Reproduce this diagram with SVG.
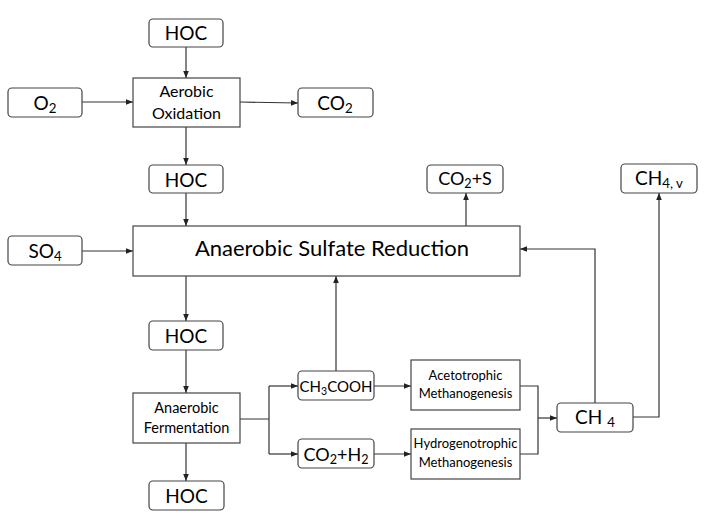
<svg xmlns="http://www.w3.org/2000/svg" width="705" height="518" viewBox="0 0 705 518">
<defs>
<marker id="ah" viewBox="0 0 10 10" refX="10" refY="5" markerWidth="7" markerHeight="7" orient="auto" markerUnits="userSpaceOnUse">
<path d="M0,1 L10,5 L0,9 z" fill="#222"/>
</marker>
<style>
.rb{fill:#fff;stroke:#444;stroke-width:1.2}
.sb{fill:#fff;stroke:#444;stroke-width:1.2}
text{font-family:Lato,"Open Sans","Liberation Sans",sans-serif;fill:#000;text-anchor:middle}
.c{fill:none;stroke:#333;stroke-width:1.2}
.a{marker-end:url(#ah)}
.sub{font-size:70%}
</style>
</defs>
<rect width="705" height="518" fill="#fff"/>
<g id="connectors">
<path class="c a" d="M186,47 V78"/>
<path class="c a" d="M82,102 H133"/>
<path class="c a" d="M240,102 L298,103"/>
<path class="c a" d="M186,127 V165"/>
<path class="c a" d="M186,193 V226"/>
<path class="c a" d="M82,251 H133"/>
<path class="c a" d="M466,226 V193"/>
<path class="c a" d="M186,276 V321"/>
<path class="c a" d="M186,350 V393"/>
<path class="c a" d="M186,443 V481"/>
<path class="c" d="M240,419 H269 M269,386 V454"/>
<path class="c a" d="M269,386 H298"/>
<path class="c a" d="M269,454 H298"/>
<path class="c a" d="M336,371 V276"/>
<path class="c a" d="M374,386 H411"/>
<path class="c a" d="M374,454 H411"/>
<path class="c" d="M520,386 H538 V454 H520"/>
<path class="c a" d="M538,418 H557"/>
<path class="c a" d="M595,403 V249 H520"/>
<path class="c a" d="M633,417 H659 V193"/>
</g>
<g id="hoc1"><rect class="rb" x="149" y="19" width="74" height="28" rx="4"/><text x="186" y="40" font-size="19">HOC</text></g>
<g id="o2"><rect class="rb" x="8" y="88" width="74" height="29" rx="4"/><text x="45" y="110" font-size="19">O<tspan class="sub" dy="3">2</tspan></text></g>
<g id="aerobic"><rect class="sb" x="133" y="78" width="107" height="49"/><text x="186.5" y="97" font-size="16">Aerobic</text><text x="186.5" y="119" font-size="16">Oxidation</text></g>
<g id="co2"><rect class="rb" x="298" y="88" width="75" height="29" rx="4"/><text x="335" y="110" font-size="19">CO<tspan class="sub" dy="3">2</tspan></text></g>
<g id="hoc2"><rect class="rb" x="149" y="165" width="74" height="28" rx="4"/><text x="186" y="187" font-size="19">HOC</text></g>
<g id="so4"><rect class="rb" x="8" y="236" width="74" height="29" rx="4"/><text x="45" y="258" font-size="19">SO<tspan class="sub" dy="3">4</tspan></text></g>
<g id="asr"><rect class="sb" x="133" y="226" width="387" height="50"/><text x="332" y="256" font-size="22">Anaerobic Sulfate Reduction</text></g>
<g id="co2s"><rect class="rb" x="427" y="165" width="76" height="28" rx="4"/><text x="465" y="185" font-size="18">CO<tspan class="sub" dy="3">2</tspan><tspan dy="-3">+S</tspan></text></g>
<g id="ch4v"><rect class="rb" x="621" y="164" width="76" height="29" rx="4"/><text x="659" y="185" font-size="19">CH<tspan class="sub" dy="3">4, v</tspan></text></g>
<g id="hoc3"><rect class="rb" x="149" y="321" width="74" height="29" rx="4"/><text x="186" y="343" font-size="19">HOC</text></g>
<g id="fermentation"><rect class="sb" x="133" y="393" width="107" height="50"/><text x="186.5" y="413" font-size="14.5">Anaerobic</text><text x="186.5" y="433" font-size="14.5">Fermentation</text></g>
<g id="hoc4"><rect class="rb" x="149" y="481" width="75" height="29" rx="4"/><text x="186.5" y="503" font-size="19">HOC</text></g>
<g id="ch3cooh"><rect class="rb" x="298" y="371" width="76" height="29" rx="4"/><text x="336" y="392" font-size="15">CH<tspan class="sub" dy="3">3</tspan><tspan dy="-3">COOH</tspan></text></g>
<g id="co2h2"><rect class="rb" x="298" y="439" width="76" height="29" rx="4"/><text x="336" y="461" font-size="18">CO<tspan class="sub" dy="3">2</tspan><tspan dy="-3">+H</tspan><tspan class="sub" dy="3">2</tspan></text></g>
<g id="aceto"><rect class="sb" x="411" y="360" width="109" height="50"/><text x="465.5" y="380" font-size="13">Acetotrophic</text><text x="465.5" y="398" font-size="13">Methanogenesis</text></g>
<g id="hydro"><rect class="sb" x="411" y="429" width="109" height="50"/><text x="465.5" y="448" font-size="13">Hydrogenotrophic</text><text x="465.5" y="467" font-size="13">Methanogenesis</text></g>
<g id="ch4"><rect class="rb" x="557" y="403" width="76" height="29" rx="4"/><text x="595" y="424" font-size="19">CH <tspan class="sub" dy="3">4</tspan></text></g>
</svg>
